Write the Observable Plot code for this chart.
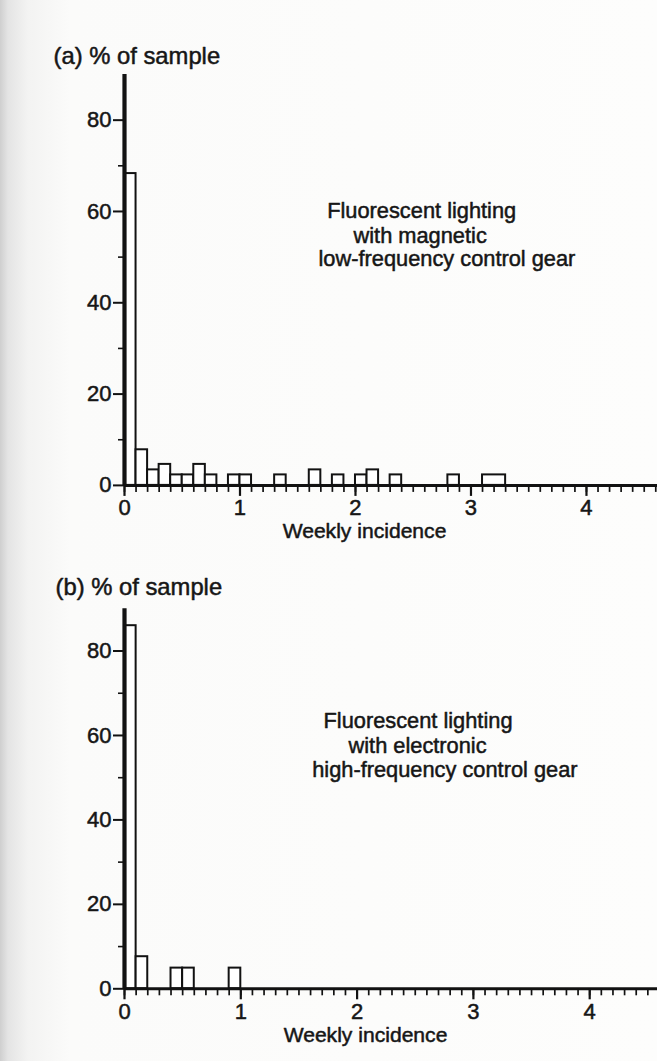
<!DOCTYPE html>
<html>
<head>
<meta charset="utf-8">
<script src="https://cdn.jsdelivr.net/npm/d3@7"></script>
<script src="https://cdn.jsdelivr.net/npm/@observablehq/plot@0.6"></script>
<style>
html, body { margin: 0; padding: 0; }
body {
  width: 657px; height: 1061px; overflow: hidden;
  background: linear-gradient(to right, #cfcfcf 0px, #e4e4e4 8px, #f3f3f2 28px, #fbfbfa 70px, #fdfdfc 100%);
  font-family: "Liberation Sans", Arial, sans-serif;
}
svg { display: block; }
svg text { paint-order: stroke; }
</style>
</head>
<body>
<div id="a"></div>
<div id="b"></div>
<script>
// ---- data ----
const xTickLabels = [0, 1, 2, 3, 4];
const yTickLabels = [0, 20, 40, 60, 80];
const yMinorTicks = [10, 30, 50, 70];

// (a) magnetic low-frequency control gear: bin edges (weekly incidence) and % of sample
const binLoA = [0, 0.1, 0.2, 0.3, 0.4, 0.5, 0.6, 0.7, 0.9, 1.0, 1.3, 1.6, 1.8, 2.0, 2.1, 2.3, 2.8, 3.1];
const binHiA = [0.1, 0.2, 0.3, 0.4, 0.5, 0.6, 0.7, 0.8, 1.0, 1.1, 1.4, 1.7, 1.9, 2.1, 2.2, 2.4, 2.9, 3.3];
const pctA   = [68.3, 7.8, 3.4, 4.6, 2.3, 2.3, 4.6, 2.3, 2.3, 2.3, 2.3, 3.4, 2.3, 2.3, 3.4, 2.3, 2.3, 2.3];

// (b) electronic high-frequency control gear
const binLoB = [0, 0.1, 0.4, 0.5, 0.9];
const binHiB = [0.1, 0.2, 0.5, 0.6, 1.0];
const pctB   = [86, 7.6, 4.9, 4.9, 4.9];

const titleA = "(a) % of sample";
const titleB = "(b) % of sample";
const linesA = ["Fluorescent lighting", "with magnetic", "low-frequency control gear"];
const linesB = ["Fluorescent lighting", "with electronic", "high-frequency control gear"];
const xLabel = "Weekly incidence";

const INK = "#121212";
const TXT = "#161616";
const FONT = "'Liberation Sans', Arial, Helvetica, sans-serif";
const textInk = {fill: TXT, stroke: TXT, strokeWidth: 0.5};

function panel(cfg) {
  const bars = cfg.lo.map((d, i) => ({lo: d, hi: cfg.hi[i], pct: cfg.pct[i]}));
  const minorX = d3.range(0, Math.floor(cfg.xmax * 10) + 1).map(i => i / 10);
  const textMarks = cfg.lines.map((t, i) =>
    Plot.text([t], {x: () => cfg.linePos[i][0], y: () => cfg.linePos[i][1],
      text: d => d, textAnchor: "start", lineAnchor: "middle", fontSize: 21.8, ...textInk}));
  return Plot.plot({
    width: 657,
    height: cfg.height,
    marginLeft: 124,
    marginRight: 0,
    marginTop: cfg.mt,
    marginBottom: cfg.mb,
    x: {domain: [0, cfg.xmax]},
    y: {domain: [0, 90]},
    style: {background: "transparent", fontFamily: FONT, color: TXT, overflow: "visible"},
    marks: [
      Plot.rectY(bars, {x1: "lo", x2: "hi", y: "pct", fill: "#ffffff", stroke: INK, strokeWidth: 2}),
      Plot.ruleY([0], {stroke: INK, strokeWidth: 3}),
      Plot.ruleX([0], {y1: 0, y2: 90, stroke: INK, strokeWidth: 4.2}),
      // ticks
      Plot.axisX(minorX, {tickSize: 7, tickFormat: () => "", stroke: INK, strokeWidth: 1.7, label: null}),
      Plot.axisX(xTickLabels, {tickSize: 11, tickFormat: () => "", stroke: INK, strokeWidth: 2.2, label: null}),
      Plot.axisY(yTickLabels, {tickSize: 11, tickFormat: () => "", stroke: INK, strokeWidth: 2, label: null}),
      Plot.axisY(yMinorTicks, {tickSize: 6, tickFormat: () => "", stroke: INK, strokeWidth: 1.6, label: null}),
      // tick labels
      Plot.text(xTickLabels, {x: d => d, frameAnchor: "bottom", text: d => String(d), textAnchor: "middle",
        lineAnchor: "middle", dy: 23, fontSize: 22, ...textInk}),
      Plot.text(yTickLabels, {y: d => d, frameAnchor: "left", text: d => String(d), textAnchor: "end",
        lineAnchor: "middle", dx: -13, dy: 0, fontSize: 22, ...textInk}),
      // titles
      Plot.text([cfg.title], {frameAnchor: "top-left", text: d => d, textAnchor: "start", lineAnchor: "middle",
        dx: cfg.titleDx, dy: cfg.titleDy, fontSize: 23.8, ...textInk}),
      Plot.text([xLabel], {frameAnchor: "bottom", text: d => d, textAnchor: "middle", lineAnchor: "middle",
        dx: cfg.xlabDx, dy: cfg.xlabDy, fontSize: 21.1, ...textInk}),
      ...textMarks
    ]
  });
}

document.getElementById("a").append(panel({
  lo: binLoA, hi: binHiA, pct: pctA, title: titleA, lines: linesA,
  height: 545, mt: 74, mb: 60.1, xmax: 4.615,
  titleDx: -71, titleDy: -18,
  xlabDx: -26.5, xlabDy: 45.7,
  linePos: [[1.755, 60.1], [1.983, 54.7], [1.68, 49.6]]
}));

document.getElementById("b").append(panel({
  lo: binLoB, hi: binHiB, pct: pctB, title: titleB, lines: linesB,
  height: 516, mt: 63.3, mb: 72.7, xmax: 4.583,
  titleDx: -69, titleDy: -21.3,
  xlabDx: -25.5, xlabDy: 46,
  linePos: [[1.711, 63.5], [1.926, 57.6], [1.614, 51.8]]
}));
</script>
</body>
</html>
